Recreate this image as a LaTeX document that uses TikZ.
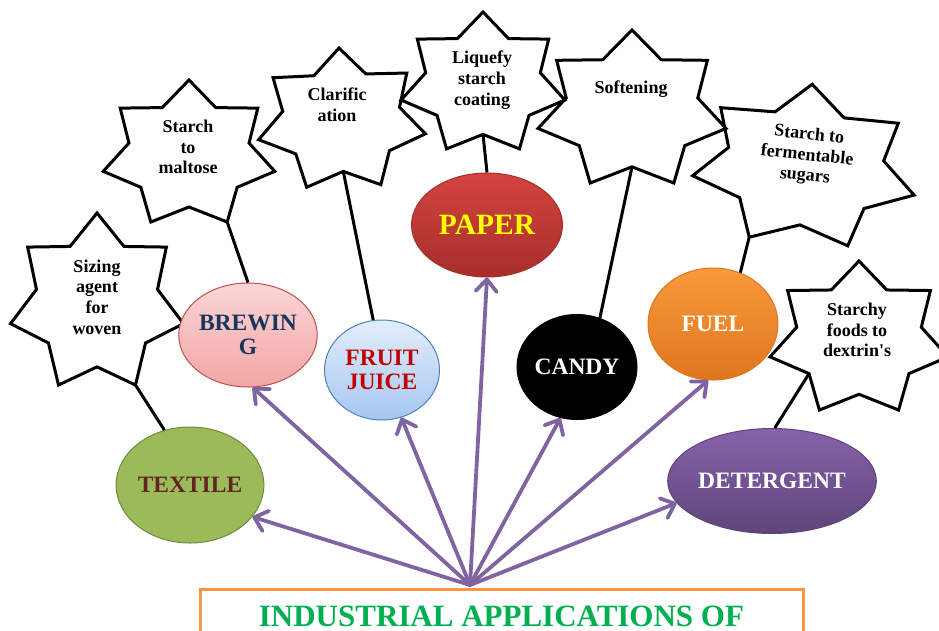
\documentclass[tikz,border=0pt]{standalone}
\usepackage{fontspec}
\setmainfont{Liberation Serif}
\usetikzlibrary{shapes.geometric,arrows.meta}

\definecolor{arrowc}{HTML}{8064A2}
\definecolor{textileg}{HTML}{9BBB59}
\definecolor{textileb}{HTML}{71893F}
\definecolor{textilet}{HTML}{632523}
\definecolor{brewtop}{HTML}{FBD6D6}
\definecolor{brewbot}{HTML}{F3A5A5}
\definecolor{brewb}{HTML}{C0504D}
\definecolor{brewt}{HTML}{17365D}
\definecolor{fruittop}{HTML}{E2EDFB}
\definecolor{fruitbot}{HTML}{A6C7F1}
\definecolor{fruitb}{HTML}{4F81BD}
\definecolor{fruitt}{HTML}{C00000}
\definecolor{papertop}{HTML}{D2443F}
\definecolor{paperbot}{HTML}{A72E2B}
\definecolor{papert}{HTML}{FFFF00}
\definecolor{fueltop}{HTML}{F99A3C}
\definecolor{fuelbot}{HTML}{DE761E}
\definecolor{dettop}{HTML}{8762AA}
\definecolor{detbot}{HTML}{5E4579}
\definecolor{titleb}{HTML}{F79646}
\definecolor{titlet}{HTML}{00B050}

\newcommand{\sevenstar}[6]{% name, cx, cy, rx, ry, rotation
  \begin{scope}[shift={(#2,#3)}, rotate=#6]
    \foreach \a/\r [count=\k from 0] in {90/1,115.714/0.7,141.429/1,167.143/0.7,192.857/1,218.571/0.7,244.286/1,270/0.7,295.714/1,321.429/0.7,347.143/1,12.857/0.7,38.571/1,64.286/0.7}
      {\coordinate (#1-\k) at ({#4*\r*cos(\a)},{-#5*\r*sin(\a)});}
    \draw[starline] (#1-0) \foreach \k in {1,...,13}{ -- (#1-\k)} -- cycle;
  \end{scope}}

\tikzset{
  starline/.style={draw=black, line width=3pt, line join=miter},
  startext/.style={font=\bfseries\fontsize{18}{20.7}\selectfont, align=center, inner sep=0pt},
  app/.style={ellipse, inner sep=0pt, align=center, line width=1pt,
    font=\bfseries\fontsize{23.5}{24}\selectfont},
  link/.style={draw=black, line width=3pt},
  arr/.style={draw=arrowc, line width=3.8pt, line cap=round,
    -{Straight Barb[length=12pt,width=21pt,round]}},
  titlebox/.style={draw=titleb, line width=3pt, text=titlet, anchor=north,
    minimum width=603pt, inner ysep=16pt, text depth=60pt,
    font=\bfseries\fontsize{31}{34}\selectfont}
}

\begin{document}
\begin{tikzpicture}[x=1pt, y=-1pt]
\useasboundingbox (0,0) rectangle (939,630);
\clip (0,0) rectangle (939,630);
\fill[white] (0,0) rectangle (939,630);

% stars
\sevenstar{sizing}{97}{303.5}{88.7}{90.5}{0}
\sevenstar{maltose}{189}{154.7}{88}{74.7}{0}
\sevenstar{clar}{341.5}{120.6}{85.6}{72.6}{2}
\sevenstar{liq}{483}{84}{84}{72}{0}
\sevenstar{soft}{632}{110.5}{96.4}{80.5}{0}
\sevenstar{ferm}{805}{167}{114}{83}{-5}
\sevenstar{starchy}{859}{339.4}{91.3}{78.4}{0}

\node[startext] (sizingT) at (97,297) {Sizing\\agent\\for\\woven};
\node[startext] (maltoseT) at (188,147) {Starch\\to\\maltose};
\node[startext] (clarT) at (337,105) {Clarific\\ation};
\node[startext] (liqT) at (482,80) {Liquefy\\starch\\coating};
\node[startext] (softT) at (631,89) {Softening};
\node[startext, rotate=-6] (fermT) at (807,156) {Starch to\\fermentable\\sugars};
\node[startext] (starchyT) at (857,330) {Starchy\\foods to\\dextrin\textquotesingle s};

% application ellipses
\node[app, minimum width=137pt, minimum height=116pt, fill=textileg, draw=textileb, text=textilet] (textile) at (190,485) {TEXTILE};
\node[app, minimum width=119pt, minimum height=104pt, top color=brewtop, bottom color=brewbot, draw=brewb, text=brewt] (brewing) at (248,335) {BREWIN\\G};
\node[app, minimum width=115pt, minimum height=100pt, top color=fruittop, bottom color=fruitbot, draw=fruitb, text=fruitt] (fruit) at (382,370) {FRUIT\\JUICE};
\node[app, minimum width=151pt, minimum height=104pt, top color=papertop, bottom color=paperbot, draw=paperbot, text=papert, font=\bfseries\fontsize{29.5}{30}\selectfont] (paper) at (487,225) {PAPER};
\node[app, minimum width=109pt, minimum height=105pt, fill=black, draw=black, text=white] (candy) at (577,367) {CANDY};
\node[app, minimum width=130pt, minimum height=112pt, top color=fueltop, bottom color=fuelbot, draw=fuelbot, text=white] (fuel) at (713,324) {FUEL};
\node[app, minimum width=160pt, minimum height=105pt, top color=dettop, bottom color=detbot, draw=detbot, text=white] (detergent) at (772,481) {DETERGENT};

% connectors from stars
\draw[link] (sizing-8) -- (textile.115);
\draw[link] (maltose-8) -- (brewing.north);
\draw[link] (clar-7) -- (fruit.100);
\draw[link] (liq-7) -- (paper.north);
\draw[link] (soft-7) -- (candy.65);
\draw[link] (ferm-6) -- (fuel.62);
\draw[link] (starchy-5) -- (detergent.87);

% title
\node[titlebox] (title) at (501.5,588) {INDUSTRIAL APPLICATIONS OF};
\coordinate (hub) at (470,585);

% arrows
\draw[arr] (hub) -- (textile.-27);
\draw[arr] (hub) -- (brewing.-85);
\draw[arr] (hub) -- (fruit.-68);
\draw[arr] (hub) -- (paper.south);
\draw[arr] (hub) -- (candy.-108);
\draw[arr] (hub) -- (fuel.-95);
\draw[arr] (hub) -- (detergent.193);
\end{tikzpicture}
\end{document}
